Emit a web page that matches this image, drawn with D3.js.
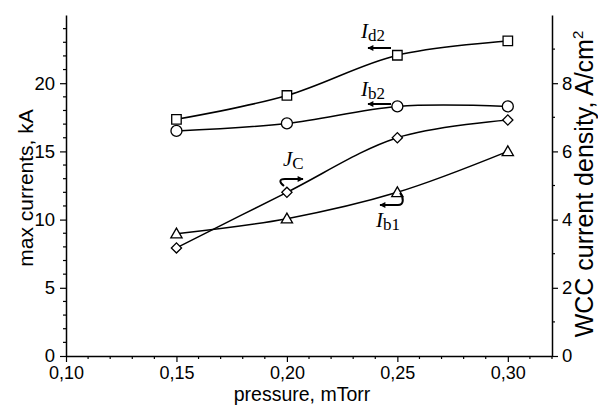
<!DOCTYPE html>
<html>
<head>
<meta charset="utf-8">
<script src="https://cdn.jsdelivr.net/npm/d3@7"></script>
<style>
  body { margin: 0; background: #fff; }
</style>
</head>
<body>
<div id="chart"></div>
<script>
// pressure values (mTorr)
const pressure = [0.15, 0.20, 0.25, 0.30];
// left axis series (kA)
const Id2 = [17.35, 19.1, 22.05, 23.1];
const Ib2 = [16.5, 17.05, 18.3, 18.3];
const Ib1 = [8.97, 10.07, 12.0, 15.0];
// right axis series (A/cm2)
const Jc = [3.17, 4.8, 6.4, 6.92];

const xTicks = [0.10, 0.15, 0.20, 0.25, 0.30];
const yLeftTicks = [0, 5, 10, 15, 20];
const yRightTicks = [0, 2, 4, 6, 8];

const width = 598, height = 406;
const plotL = 66, plotR = 552, plotT = 15, plotB = 356;
const sans = "Liberation Sans, Arial, sans-serif";
const serif = "Liberation Serif, Times New Roman, serif";

const svg = d3.select("#chart").append("svg")
    .attr("width", width)
    .attr("height", height)
    .style("font-family", sans);

const x = d3.scaleLinear().domain([0.10, 0.32]).range([plotL, plotR]);
const yL = d3.scaleLinear().domain([0, 25]).range([plotB, plotT]);
const yR = d3.scaleLinear().domain([0, 10]).range([plotB, plotT]);

const fmt = d => d3.format(".2f")(d).replace(".", ",");

// minor ticks
function minor(axisG, ticks, fn) {
    axisG.selectAll(".minor").data(ticks).join("line")
        .attr("class", "minor")
        .attr("stroke", "#000").attr("stroke-width", 1.2)
        .each(function(d) { fn(d3.select(this), d); });
}

// bottom axis
const gx = svg.append("g").attr("transform", `translate(0,${plotB})`)
    .call(d3.axisBottom(x).tickValues(xTicks).tickFormat(fmt).tickSize(6).tickSizeOuter(0));
minor(gx, d3.range(11, 33).map(d => d / 100).filter(d => Math.round(d * 100) % 5 !== 0),
    (s, d) => s.attr("x1", x(d)).attr("x2", x(d)).attr("y1", 0).attr("y2", 3));

// left axis
const gyL = svg.append("g").attr("transform", `translate(${plotL},0)`)
    .call(d3.axisLeft(yL).tickValues(yLeftTicks).tickSize(6).tickSizeOuter(0));
minor(gyL, d3.range(1, 26).filter(d => d % 5 !== 0),
    (s, d) => s.attr("x1", 0).attr("x2", -3).attr("y1", yL(d)).attr("y2", yL(d)));

// right axis
const gyR = svg.append("g").attr("transform", `translate(${plotR},0)`)
    .call(d3.axisRight(yR).tickValues(yRightTicks).tickSize(6).tickSizeOuter(0));
minor(gyR, d3.range(1, 11).filter(d => d % 2 !== 0),
    (s, d) => s.attr("x1", 0).attr("x2", 3).attr("y1", yR(d)).attr("y2", yR(d)));

svg.selectAll(".domain").attr("stroke", "#000").attr("stroke-width", 1.5);
svg.selectAll(".tick line").attr("stroke", "#000").attr("stroke-width", 1.2);
svg.selectAll(".tick text").attr("font-size", 18.5).attr("fill", "#000")
    .style("font-family", sans);
gx.selectAll(".tick text").attr("dy", 0).attr("y", 23).attr("font-size", 18);
gyL.selectAll(".tick text").attr("x", -11);
gyR.selectAll(".tick text").attr("x", 10);

// axis titles
svg.append("text").attr("x", 302).attr("y", 401).attr("text-anchor", "middle")
    .attr("font-size", 19.5).text("pressure, mTorr");
svg.append("text").attr("transform", "translate(33,188) rotate(-90)")
    .attr("text-anchor", "middle").attr("font-size", 21).text("max currents, kA");
const rt = svg.append("text").attr("transform", "translate(593,184) rotate(-90)")
    .attr("text-anchor", "middle").attr("font-size", 25);
rt.append("tspan").text("WCC current density, A/cm");
rt.append("tspan").attr("font-size", 15).attr("dy", -10).text("2");

// series
const series = [
    { vals: Id2, y: yL, sym: d3.symbolSquare, size: 90, rot: 0 },
    { vals: Ib2, y: yL, sym: d3.symbolCircle, size: 95, rot: 0 },
    { vals: Ib1, y: yL, sym: d3.symbolTriangle, size: 55, rot: 0 },
    { vals: Jc, y: yR, sym: d3.symbolSquare, size: 52, rot: 45 }
];

series.forEach(s => {
    const pts = pressure.map((p, i) => [x(p), s.y(s.vals[i])]);
    svg.append("path")
        .attr("d", d3.line().curve(d3.curveCatmullRom.alpha(0.5))(pts))
        .attr("fill", "none").attr("stroke", "#000").attr("stroke-width", 1.5);
});
series.forEach(s => {
    svg.append("g").selectAll("path").data(s.vals).join("path")
        .attr("transform", (d, i) => {
            let ty = s.y(d);
            if (s.sym === d3.symbolTriangle) ty += 1;
            return `translate(${x(pressure[i])},${ty}) rotate(${s.rot})`;
        })
        .attr("d", d3.symbol().type(s.sym).size(s.size))
        .attr("fill", "#fff").attr("stroke", "#000").attr("stroke-width", 1.3);
});

// arrow marker
svg.append("defs").append("marker")
    .attr("id", "ah").attr("viewBox", "0 0 10 10").attr("refX", 9).attr("refY", 5)
    .attr("markerWidth", 8).attr("markerHeight", 6).attr("markerUnits", "userSpaceOnUse")
    .attr("orient", "auto")
    .append("path").attr("d", "M0,0L10,5L0,10z").attr("fill", "#000");

function label(xp, yp, sub) {
    const t = svg.append("text").attr("x", xp).attr("y", yp)
        .style("font-family", serif);
    t.append("tspan").attr("font-style", "italic").attr("font-size", 21).text(sub[0]);
    t.append("tspan").attr("font-size", 17).attr("dy", 3).text(sub.slice(1));
}
function arrow(d) {
    svg.append("path").attr("d", d).attr("fill", "none").attr("stroke", "#000")
        .attr("stroke-width", 2).attr("marker-end", "url(#ah)");
}

label(361, 38, "Id2");
arrow("M391,48L368,48");
label(361, 96, "Ib2");
arrow("M391,104L368,104");
label(283, 166, "JC");
arrow("M284,186C279,182 279,179 285,179L303,179");
label(376, 227, "Ib1");
arrow("M400,193C404,198 404,205 398,205L380,205");
</script>
</body>
</html>
